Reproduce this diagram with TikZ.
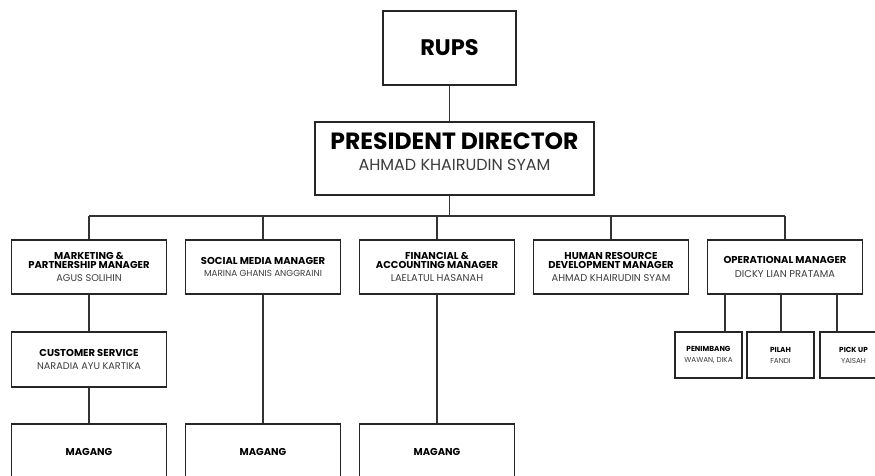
\documentclass[tikz,border=0pt]{standalone}
\usepackage{fontspec}
\setmainfont{Poppins}
\usetikzlibrary{positioning}
\definecolor{namegray}{HTML}{3C3C3C}
\newcommand\nm{\mdseries\color{namegray}}
\newcommand\fs[2]{\fontsize{#1}{#2}\selectfont}

\begin{document}
\begin{tikzpicture}[x=1pt,y=-1pt,
  box/.style={draw=black!85, line width=1.5pt, align=center, inner sep=0pt, font=\bfseries},
  mgr/.style={box, minimum width=155pt, minimum height=54pt, font=\bfseries\fs{10}{9.2}},
  unit/.style={box, minimum width=67pt, minimum height=46pt, font=\bfseries\fs{7.3}{8}},
  link/.style={draw=black!80, line width=1.1pt}
]
\useasboundingbox (0,0) rectangle (875,475);
\clip (0,0) rectangle (875,475);

% Top of the chart
\node[box, minimum width=133pt, minimum height=74pt, font=\bfseries\fs{22.5}{24}] (rups) at (449.5,48) {RUPS};
\node[box, minimum width=279pt, minimum height=73pt, font=\bfseries\fs{23.5}{24}] (pres) at (454.5,158.5)
  {PRESIDENT DIRECTOR\\[-3pt]{\nm\fs{16}{18}AHMAD KHAIRUDIN SYAM}\rule[-13pt]{0pt}{0pt}};

% Managers
\node[mgr] (mkt) at (89,267) {MARKETING \&\\PARTNERSHIP MANAGER\\[4pt]{\nm\fs{9.8}{10}AGUS SOLIHIN}};
\node[mgr] (soc) at (263,267) {SOCIAL MEDIA MANAGER\\[2pt]{\nm\fs{8.8}{9}MARINA GHANIS ANGGRAINI}};
\node[mgr] (fin) at (437,267) {FINANCIAL \&\\ACCOUNTING MANAGER\\[4pt]{\nm\fs{9.9}{10}LAELATUL HASANAH}};
\node[mgr] (hrd) at (611,267) {HUMAN RESOURCE\\DEVELOPMENT MANAGER\\[4pt]{\nm\fs{9.9}{10}AHMAD KHAIRUDIN SYAM}};
\node[mgr] (ops) at (785,267) {OPERATIONAL MANAGER\\[4pt]{\nm\fs{9.9}{10}DICKY LIAN PRATAMA}};

% Staff
\node[mgr, minimum height=55pt] (cs) at (89,359.5) {CUSTOMER SERVICE\\[4pt]{\nm\fs{9.7}{10}NARADIA AYU KARTIKA}};
\foreach \name/\x in {mgA/89, mgB/263, mgC/437}
  \node[mgr, minimum height=56pt] (\name) at (\x,452) {MAGANG};
\node[unit] (pen) at (708.5,355) {PENIMBANG\\[3pt]{\nm\fs{7.2}{8}WAWAN, DIKA}};
\node[unit] (pil) at (780.5,355) {PILAH\\[3pt]{\nm\fs{7.2}{8}FANDI}};
\node[unit] (pick) at (853.5,355) {PICK UP\\[3pt]{\nm\fs{7.2}{8}YAISAH}};

% Connectors
\coordinate (bus) at (0,216);
\draw[link] (rups.south) -- (rups.south |- pres.north);
\draw[link] (rups.south |- pres.south) -- (rups.south |- bus);
\draw[link] (mkt.north |- bus) -- (ops.north |- bus);
\foreach \m in {mkt, soc, fin, hrd, ops}
  \draw[link] (\m.north |- bus) -- (\m.north);
\draw[link] (mkt.south) -- (cs.north);
\draw[link] (cs.south) -- (mgA.north);
\draw[link] (soc.south) -- (mgB.north);
\draw[link] (fin.south) -- (mgC.north);
\foreach \b/\x in {pen/725, pil/781, pick/837}
  \draw[link] (\x,0 |- ops.south) -- (\x,0 |- \b.north);

\end{tikzpicture}
\end{document}
